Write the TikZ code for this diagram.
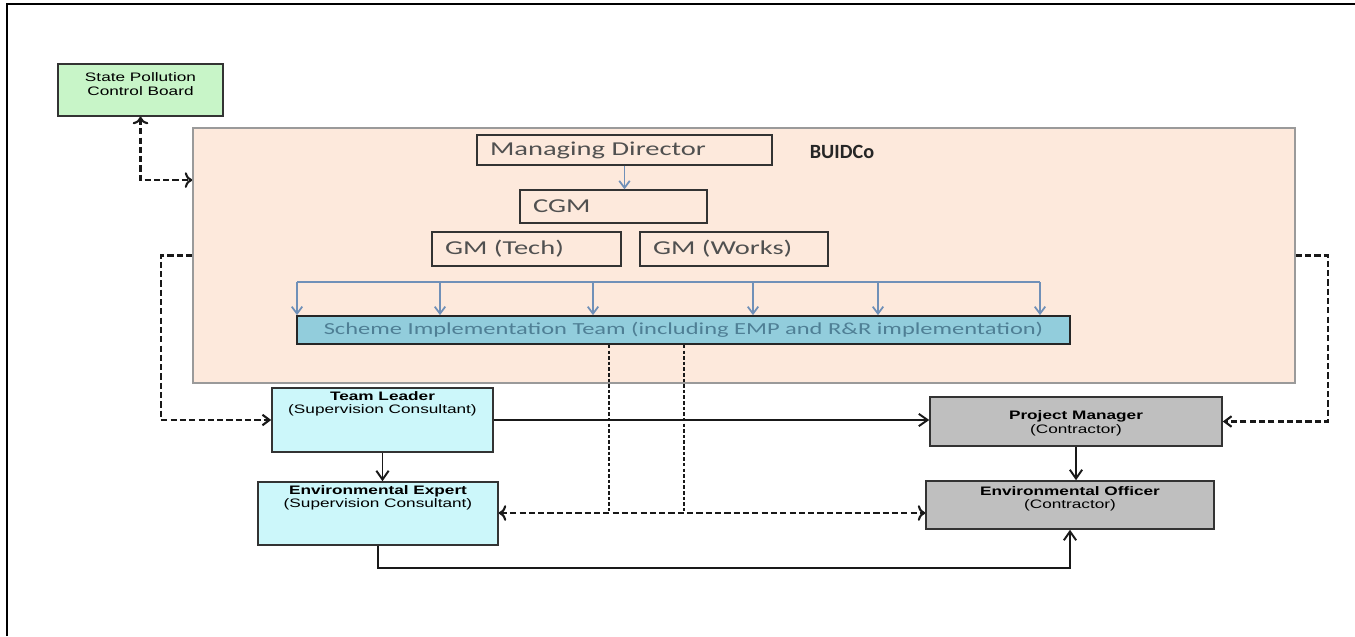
\documentclass[tikz,border=0pt]{standalone}
\usepackage{fontspec}
\usepackage{tikz}
\usetikzlibrary{arrows.meta}
\newfontfamily\upfont[FakeStretch=1.45]{Carlito}
\newfontfamily\titlefont{Carlito}
\newfontfamily\lowfont[FakeStretch=1.4]{Liberation Sans}
\definecolor{spcbgreen}{HTML}{C8F5C8}
\definecolor{buidpeach}{HTML}{FDE9DC}
\definecolor{buidedge}{HTML}{9A9A9A}
\definecolor{consultcyan}{HTML}{CCF7FA}
\definecolor{contractgray}{HTML}{BFBFBF}
\definecolor{schemeblue}{HTML}{92CDDC}
\definecolor{bluearrow}{HTML}{7090B8}
\definecolor{uptext}{HTML}{505050}
\definecolor{schemetext}{HTML}{4F7F95}
\tikzstyle{buidbox} = [draw=buidedge, fill=buidpeach, line width=1pt, rectangle, inner sep=0pt]
\tikzstyle{mgrbox} = [draw=black!80, line width=0.8pt, rectangle, text=uptext, align=left, inner xsep=0.26cm, inner ysep=0pt, font=\upfont\fontsize{11.2}{13}\selectfont]
\tikzstyle{schemebox} = [draw=black!85, fill=schemeblue, line width=1pt, rectangle, inner sep=0pt, text=schemetext, font=\upfont\fontsize{9.6}{11}\selectfont]
\tikzstyle{titletxt} = [inner sep=0pt, text=black!85, font=\titlefont\bfseries\fontsize{11.5}{13}\selectfont]
\tikzstyle{lowbox} = [draw=black!80, line width=0.9pt, rectangle, inner sep=0pt, font=\lowfont\fontsize{7}{7.6}\selectfont]
\tikzstyle{dashlink} = [draw=black!90, line width=1.2pt, dash pattern=on 3.5pt off 1.8pt, arrows={-Straight Barb[length=4pt,width=6pt]}]
\tikzstyle{dotlink} = [draw=black!90, line width=1.5pt, dash pattern=on 2pt off 1.2pt]
\tikzstyle{bluelink} = [draw=bluearrow, line width=1pt, arrows={-Straight Barb[length=4pt,width=6pt]}]
\tikzstyle{solidlink} = [draw=black!90, line width=1.1pt, arrows={-Straight Barb[length=5pt,width=7pt]}]

\begin{document}
\begin{tikzpicture}[x=0.02cm, y=-0.02cm]
\useasboundingbox (0,0) rectangle (1355,636);
% frame (top and left only)
\draw[line width=1.7pt] (7,636) -- (7,4) -- (1355,4);

% BUIDCo block
\node[buidbox, minimum width=22.04cm, minimum height=5.1cm] (buidco) at (744,255.5) {};
\node[titletxt] (buidlabel) at (842,152) {BUIDCo};
\node[mgrbox, text width=5.38cm, minimum height=0.6cm] (md) at (624.5,150) {Managing Director};
\node[mgrbox, text width=3.22cm, minimum height=0.66cm] (cgm) at (613.5,206.5) {CGM};
\node[mgrbox, text width=3.26cm, minimum height=0.68cm] (gmtech) at (526.5,249) {GM (Tech)};
\node[mgrbox, text width=3.24cm, minimum height=0.68cm] (gmworks) at (734,249) {GM (Works)};
\node[schemebox, minimum width=15.46cm, minimum height=0.56cm] (sit) at (683.5,330) {Scheme Implementation Team (including EMP and R\&R implementation)};

% outside boxes
\node[lowbox, fill=spcbgreen] (spcb) at (140.5,90) {%
    \begin{minipage}[c][1.04cm][t]{3.3cm}
        \centering\vspace*{5pt}
        State Pollution\\
        Control Board
    \end{minipage}
};
\node[lowbox, fill=consultcyan] (tl) at (382.5,420) {%
    \begin{minipage}[c][1.28cm][t]{4.42cm}
        \centering\vspace*{2pt}
        \textbf{Team Leader}\\
        (Supervision Consultant)
    \end{minipage}
};
\node[lowbox, fill=consultcyan] (ee) at (378,513.5) {%
    \begin{minipage}[c][1.26cm][t]{4.8cm}
        \centering\vspace*{2pt}
        \textbf{Environmental Expert}\\
        (Supervision Consultant)
    \end{minipage}
};
\node[lowbox, fill=contractgray] (pm) at (1076,421.5) {%
    \begin{minipage}[c][0.98cm][c]{5.84cm}
        \centering\vspace*{2pt}
        \textbf{Project Manager}\\
        (Contractor)
    \end{minipage}
};
\node[lowbox, fill=contractgray] (eo) at (1070,505) {%
    \begin{minipage}[c][0.96cm][t]{5.76cm}
        \centering\vspace*{3pt}
        \textbf{Environmental Officer}\\
        (Contractor)
    \end{minipage}
};

% inside BUIDCo
\draw[bluelink] (md.south) -- (md.south |- cgm.north);
\coordinate (busL) at (297,282);
\coordinate (busR) at (1040,282);
\draw[bluelink, -] (busL) -- (busR);
\foreach \x in {297,440,593,753,878,1040}
    \draw[bluelink] (\x,282) -- (\x,282 |- sit.north);

% dashed links
\draw[dashlink, <->] (spcb.south) |- ([yshift=1.51cm]buidco.west);
\draw[dashlink] (buidco.west) -- ++(-31,0) |- (tl.west);
\draw[dashlink] (buidco.east) -- ++(32,0) |- (pm.east);
\coordinate (eejn) at (609,513);
\coordinate (eojn) at (684,513);
\draw[dotlink] (sit.south -| eejn) -- (eejn);
\draw[dotlink] (sit.south -| eojn) -- (eojn);
\draw[dashlink, <->] (ee.east |- eejn) -- (eo.west |- eojn);

% solid links
\draw[solidlink] (tl.east) -- (tl.east -| pm.west);
\draw[solidlink] (tl.south) -- (tl.south |- ee.north);
\draw[solidlink] (pm.south) -- (pm.south |- eo.north);
\draw[solidlink] (ee.south) -- ++(0,22) -| (eo.south);
\end{tikzpicture}
\end{document}
